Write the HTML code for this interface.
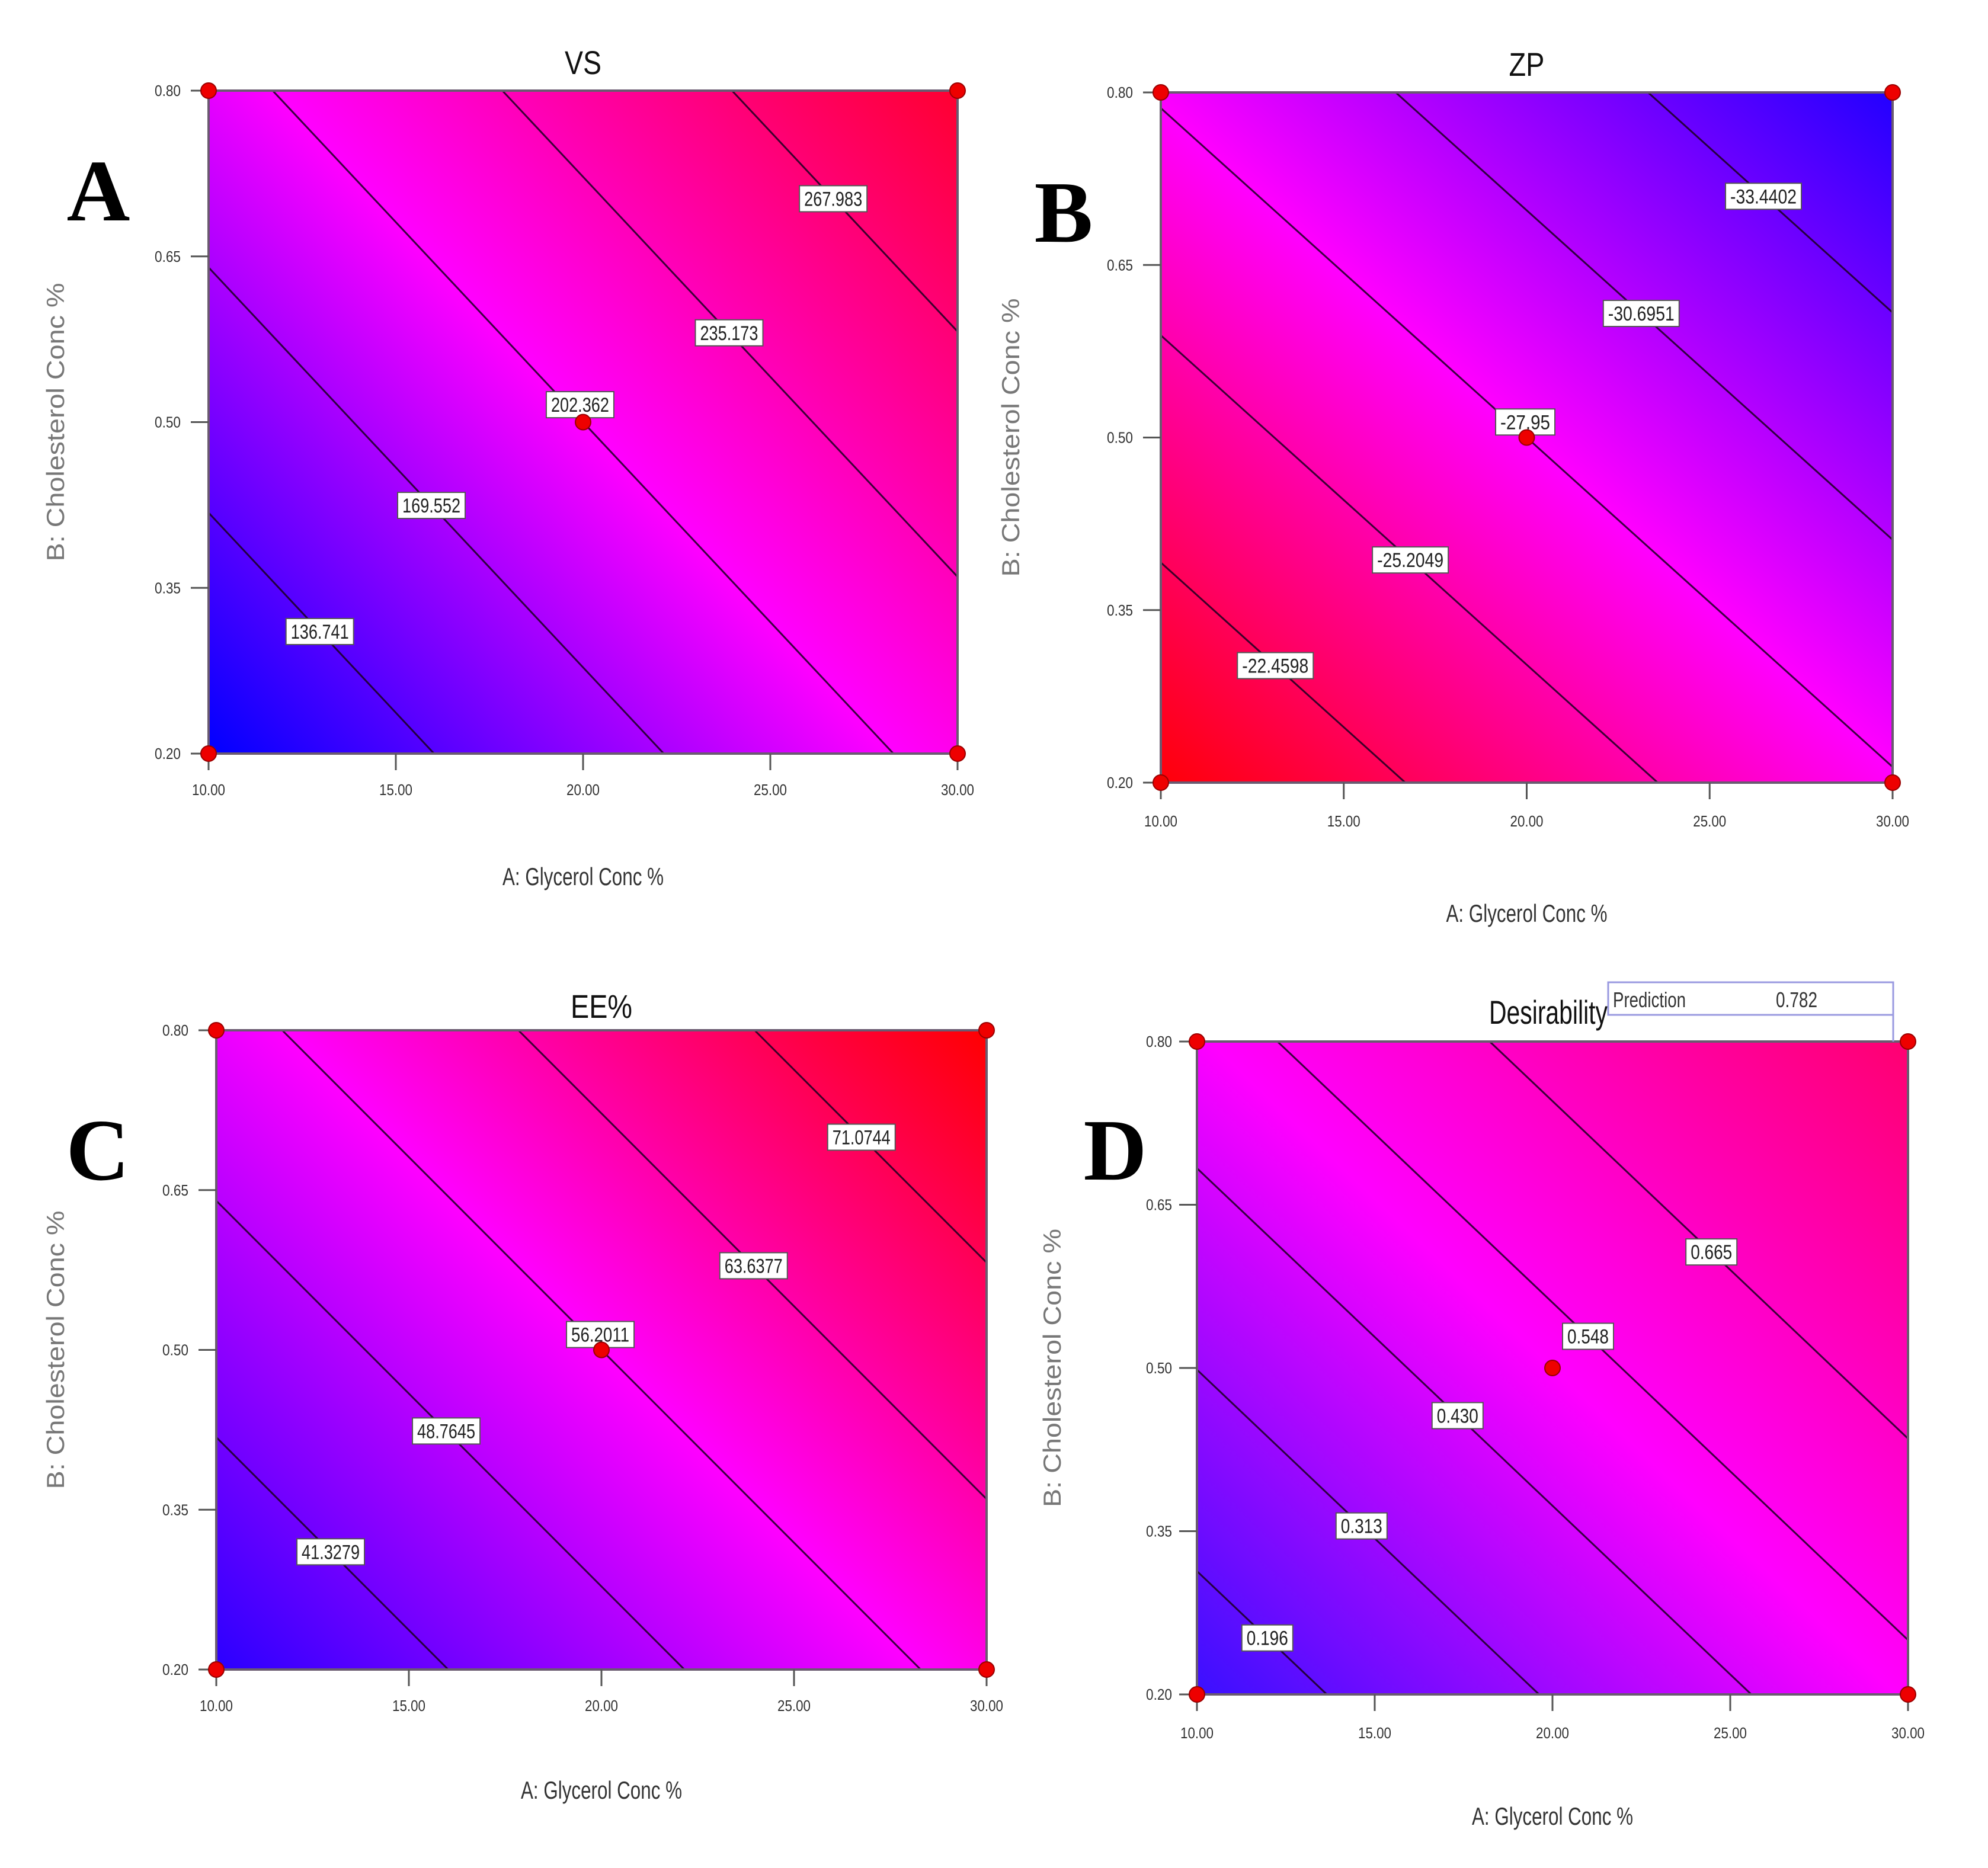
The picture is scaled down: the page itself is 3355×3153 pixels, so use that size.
<!DOCTYPE html>
<html><head><meta charset="utf-8"><style>
html,body{margin:0;padding:0;background:#fff;}
svg{display:block;}
text{font-family:"Liberation Sans",sans-serif;}
</style></head><body>
<svg id="fig" width="3355" height="3153" viewBox="0 0 3355 3153" xmlns="http://www.w3.org/2000/svg">
<rect x="0" y="0" width="3355" height="3153" fill="#ffffff"/>
</svg>
<script>
const xTicks = [10, 15, 20, 25, 30];
const yTicks = [0.20, 0.35, 0.50, 0.65, 0.80];
const designX = [10, 30, 10, 30, 20];
const designY = [0.2, 0.2, 0.8, 0.8, 0.5];

// Panel A (VS)
const aLevels = [136.741, 169.552, 202.362, 235.173, 267.983];
const aLabelX = [12.97, 15.95, 19.92, 23.9, 26.68];
const aModel = [202.362, 5.35, 147.8];
// Panel B (ZP)
const bLevels = [-22.4598, -25.2049, -27.95, -30.6951, -33.4402];
const bLabelX = [13.13, 16.82, 19.96, 23.13, 26.47];
const bModel = [-27.95, -0.398, -13.9];
// Panel C (EE%)
const cLevels = [41.3279, 48.7645, 56.2011, 63.6377, 71.0744];
const cLabelX = [12.97, 15.97, 19.97, 23.95, 26.75];
const cModel = [56.2011, 1.2126, 33.5];
// Panel D (Desirability)
const dLevels = [0.196, 0.313, 0.430, 0.548, 0.665];
const dLabelX = [11.98, 14.63, 17.33, 21.0, 24.47];
const dLabelText = ["0.196", "0.313", "0.430", "0.548", "0.665"];
const dModel = [0.510, 0.0196, 0.632];

const NS = "http://www.w3.org/2000/svg";
const svg = document.getElementById('fig');
function mk(tag, attrs, parent) {
  const e = document.createElementNS(NS, tag);
  for (const k in attrs) e.setAttribute(k, attrs[k]);
  (parent || svg).appendChild(e);
  return e;
}
function txt(str, attrs, parent) { const t = mk('text', attrs, parent); t.textContent = str; return t; }

const panels = [
  {key:'a', title:'VS', letter:'A', levels:aLevels, labelX:aLabelX, labels:aLevels.map(String), model:aModel, centerLift:24,
   box:[352,153,1616,1272], lo:'#0000ff', hi:'#ff0030', letterPos:[166,372], titleY:125, tickLabY:1342, axTitleY:1494, yTickX:305, yTitleX:108, titleW:62},
  {key:'b', title:'ZP', letter:'B', levels:bLevels, labelX:bLabelX, labels:bLevels.map(String), model:bModel, centerLift:24,
   box:[1959,156,3194,1321], lo:'#2200ff', hi:'#ff0008', letterPos:[1795,408], titleY:128, tickLabY:1395, axTitleY:1556, yTickX:1912, yTitleX:1720, titleW:60},
  {key:'c', title:'EE%', letter:'C', levels:cLevels, labelX:cLabelX, labels:cLevels.map(String), model:cModel, centerLift:24,
   box:[365,1739,1665,2818], lo:'#2a00ff', hi:'#ff0000', letterPos:[165,1991], titleY:1718, tickLabY:2888, axTitleY:3036, yTickX:318, yTitleX:108, titleW:104},
  {key:'d', title:'Desirability', letter:'D', levels:dLevels, labelX:dLabelX, labels:dLabelText, model:dModel, centerLift:0,
   box:[2020,1758,3220,2860], lo:'#3a10ff', hi:'#ff0070', letterPos:[1882,1991], titleY:1728, tickLabY:2934, axTitleY:3080, yTickX:1978, yTitleX:1790, titleW:200}
];

panels.forEach(p => {
  const [L, T, R, B] = p.box;
  const g = mk('g', {});
  
  
  const sx = v => L + (v - 10) / 20 * (R - L);
  const sy = v => B - (v - 0.2) / 0.6 * (B - T);
  const [z0, bb, cc] = p.model;
  const zf = (x, y) => z0 + bb * (x - 20) + cc * (y - 0.5);

  const gx = bb * 20 / (R - L), gy = -cc * 0.6 / (B - T);
  const gl = Math.hypot(gx, gy);
  const ux = gx / gl, uy = gy / gl;
  const cxp = sx(20), cyp = sy(0.5);
  const corners = [[10,0.2],[30,0.2],[10,0.8],[30,0.8]].map(c => zf(c[0], c[1]));
  const zmin = Math.min(...corners), zmax = Math.max(...corners);
  const tmin = (zmin - z0) / gl, tmax = (zmax - z0) / gl;
  const defs = mk('defs', {}, g);
  const lg = mk('linearGradient', {id:'grad-' + p.key, gradientUnits:'userSpaceOnUse',
    x1: cxp + ux * tmin, y1: cyp + uy * tmin, x2: cxp + ux * tmax, y2: cyp + uy * tmax}, defs);
  mk('stop', {offset:'0', 'stop-color':p.lo}, lg);
  mk('stop', {offset:'0.5', 'stop-color':'#ff00ff'}, lg);
  mk('stop', {offset:'1', 'stop-color':p.hi}, lg);
  const fill = mk('rect', {x:L, y:T, width:R-L, height:B-T, fill:'url(#grad-' + p.key + ')'}, g);
  
  

  p.levels.forEach((lev, i) => {
    const pts = [];
    [10, 30].forEach(x => { const y = 0.5 + (lev - z0 - bb * (x - 20)) / cc; if (y >= 0.2 - 1e-9 && y <= 0.8 + 1e-9) pts.push([x, y]); });
    [0.2, 0.8].forEach(y => { const x = 20 + (lev - z0 - cc * (y - 0.5)) / bb; if (x >= 10 - 1e-9 && x <= 30 + 1e-9) pts.push([x, y]); });
    if (pts.length >= 2) {
      const ln = mk('line', {x1:sx(pts[0][0]), y1:sy(pts[0][1]), x2:sx(pts[1][0]), y2:sy(pts[1][1]), stroke:'#1a0020', 'stroke-width':3, 'stroke-opacity':0.85}, g);
      
      
    }
  });

  const fr = mk('rect', {x:L, y:T, width:R-L, height:B-T, fill:'none', stroke:'#6a5a70', 'stroke-width':4}, g);
  
  

  xTicks.forEach(v => {
    const tk = mk('line', {x1:sx(v), y1:B, x2:sx(v), y2:B + 28, stroke:'#555', 'stroke-width':3}, g);
    
    
    const tl = txt(v.toFixed(2), {x:sx(v), y:p.tickLabY, 'text-anchor':'middle', 'font-size':26, fill:'#333', textLength:56, lengthAdjust:'spacingAndGlyphs'}, g);
    
    
  });
  yTicks.forEach(v => {
    const tk = mk('line', {x1:L - 30, y1:sy(v), x2:L, y2:sy(v), stroke:'#555', 'stroke-width':3}, g);
    
    
    const tl = txt(v.toFixed(2), {x:p.yTickX, y:sy(v) + 9, 'text-anchor':'end', 'font-size':26, fill:'#333', textLength:44, lengthAdjust:'spacingAndGlyphs'}, g);
    
    
  });

  p.levels.forEach((lev, i) => {
    const x = p.labelX[i];
    const y = 0.5 + (lev - z0 - bb * (x - 20)) / cc;
    const s = p.labels[i];
    const w = s.length * 14 + 16;
    const px = sx(x), py = sy(y) - (i === 2 ? p.centerLift : 0);
    const bx = mk('rect', {x:px - w / 2, y:py - 22, width:w, height:44, fill:'#ffffff', stroke:'#555', 'stroke-width':2}, g);
    
    
    const t = txt(s, {x:px, y:py + 12, 'text-anchor':'middle', 'font-size':34, fill:'#222', textLength:s.length * 14, lengthAdjust:'spacingAndGlyphs'}, g);
    
    
  });

  designX.forEach((x, i) => {
    const c = mk('circle', {cx:sx(x), cy:sy(designY[i]), r:13, fill:'#ee0000', stroke:'#900', 'stroke-width':2}, g);
    
    
  });

  const cx = (L + R) / 2;
  const ti = txt(p.title, {x: p.key === 'd' ? 2613 : cx, y:p.titleY, 'text-anchor':'middle', 'font-size':56, fill:'#111', textLength:p.titleW, lengthAdjust:'spacingAndGlyphs'}, g);
  
  
  const xt = txt('A: Glycerol Conc %', {x:cx, y:p.axTitleY, 'text-anchor':'middle', 'font-size':42, fill:'#333', textLength:272, lengthAdjust:'spacingAndGlyphs'}, g);
  
  
  const ymid = (T + B) / 2;
  const yt = txt('B: Cholesterol Conc %', {x:0, y:0, 'text-anchor':'middle', 'font-size':42, fill:'#777', textLength:470, lengthAdjust:'spacingAndGlyphs', transform:'translate(' + p.yTitleX + ',' + ymid + ') rotate(-90)'}, g);
  
  
  const lt = txt(p.letter, {x:p.letterPos[0], y:p.letterPos[1], 'text-anchor':'middle', 'font-size':148, 'font-weight':'bold', fill:'#000', style:'font-family:"Liberation Serif",serif'}, g);
  
  
});

const pg = mk('g', {});


mk('rect', {x:2714, y:1658, width:481, height:55, fill:'#ffffff', stroke:'#9a9ae0', 'stroke-width':3}, pg);
mk('line', {x1:3195, y1:1713, x2:3195, y2:1758, stroke:'#9a9ae0', 'stroke-width':3}, pg);
const pt1 = txt('Prediction', {x:2722, y:1700, 'font-size':36, fill:'#333', textLength:123, lengthAdjust:'spacingAndGlyphs'}, pg);


const pt2 = txt('0.782', {x:2997, y:1700, 'font-size':36, fill:'#333', textLength:70, lengthAdjust:'spacingAndGlyphs'}, pg);


</script>
</body></html>
